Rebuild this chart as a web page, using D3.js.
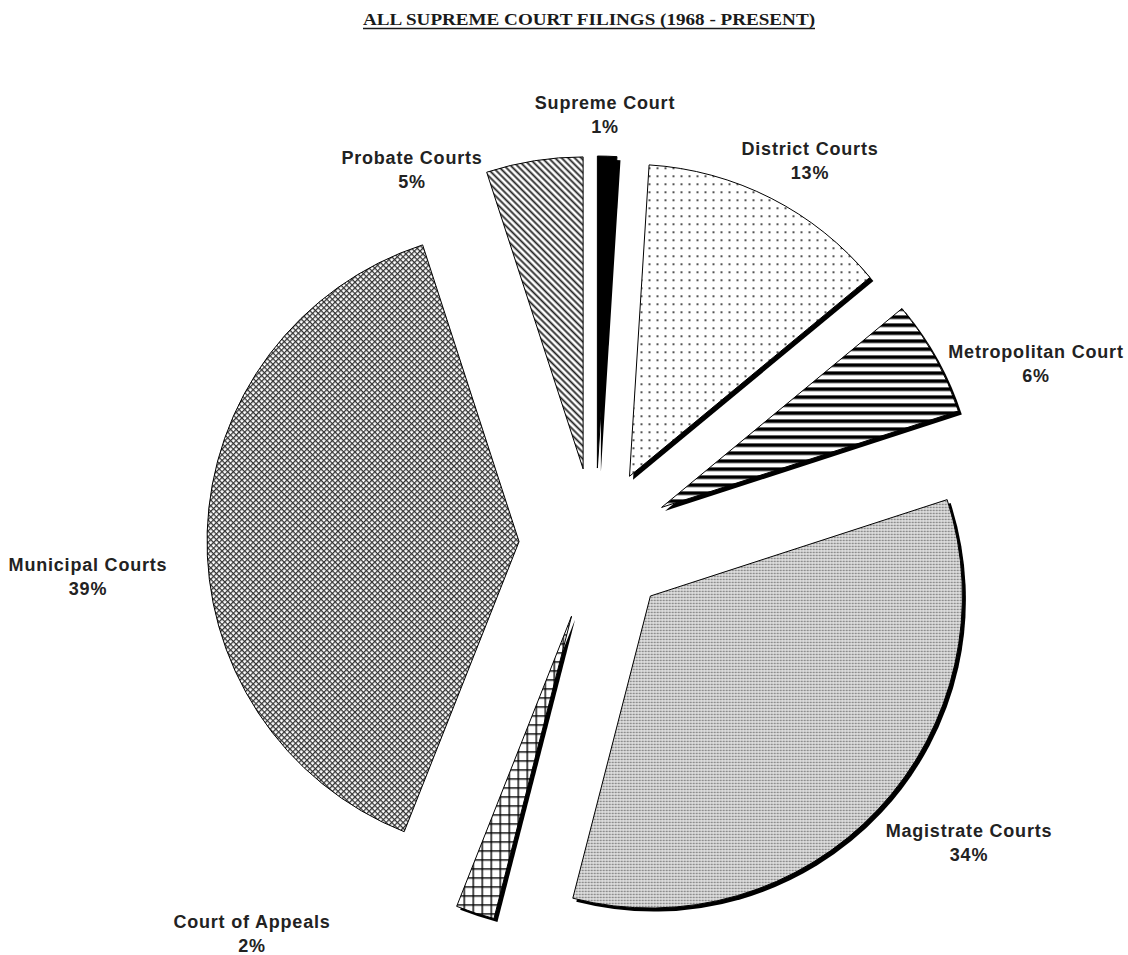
<!DOCTYPE html>
<html>
<head>
<meta charset="utf-8">
<script src="https://cdn.jsdelivr.net/npm/d3@7"></script>
<style>
  body { margin: 0; background: #fff; }
  svg { display: block; }
</style>
</head>
<body>
<svg id="chart" width="1128" height="955"></svg>
<script>
// Filing shares by court, clockwise from twelve o'clock
const courts = ["Supreme Court", "District Courts", "Metropolitan Court", "Magistrate Courts",
                "Court of Appeals", "Municipal Courts", "Probate Courts"];
const shares = [1, 13, 6, 34, 2, 39, 5];
const shareLabels = ["1%", "13%", "6%", "34%", "2%", "39%", "5%"];
const chartTitle = "ALL SUPREME COURT FILINGS (1968 - PRESENT)";

// Layout
const W = 1128, H = 955;
const center = { x: 595, y: 544 };
const radius = 312;
const explode = 76;
const shadowOffset = { x: 3.5, y: 3.5 };

// Fill pattern and shadow for each court
const fills = {
  "Supreme Court": "#000",
  "District Courts": "url(#pDots)",
  "Metropolitan Court": "url(#pStripes)",
  "Magistrate Courts": "url(#pFine)",
  "Court of Appeals": "url(#pGrid)",
  "Municipal Courts": "url(#pCross)",
  "Probate Courts": "url(#pDiag)"
};
const raised = new Set(["Supreme Court", "District Courts", "Metropolitan Court",
                        "Magistrate Courts", "Court of Appeals"]);

// Label anchor: centre x and first-line baseline
const labelSpots = {
  "Supreme Court": [605, 109],
  "District Courts": [810, 155],
  "Metropolitan Court": [1036, 358],
  "Magistrate Courts": [969, 837],
  "Court of Appeals": [252, 928],
  "Municipal Courts": [88, 571],
  "Probate Courts": [412, 164]
};

const svg = d3.select("#chart");
const defs = svg.append("defs");

function pattern(id, w, h, rotate) {
  const p = defs.append("pattern")
    .attr("id", id)
    .attr("patternUnits", "userSpaceOnUse")
    .attr("width", w).attr("height", h);
  if (rotate) p.attr("patternTransform", `rotate(${rotate})`);
  p.append("rect").attr("width", w).attr("height", h).attr("fill", "#fff");
  return p;
}

// sparse dots
pattern("pDots", 8, 8).append("circle")
  .attr("cx", 4).attr("cy", 4).attr("r", 1).attr("fill", "#1a1a1a");

// horizontal bands
pattern("pStripes", 8, 8).append("rect")
  .attr("x", 0).attr("y", 0).attr("width", 8).attr("height", 3.6).attr("fill", "#000");

// fine dot screen
const pf = pattern("pFine", 3, 3);
pf.select("rect").attr("fill", "#ececec");
pf.append("rect").attr("x", 0.6).attr("y", 0.6).attr("width", 1.7).attr("height", 1.7).attr("fill", "#6e6e6e");

// square grid
const pg = pattern("pGrid", 9, 9);
pg.append("line").attr("x1", 0).attr("y1", 0.7).attr("x2", 9).attr("y2", 0.7)
  .attr("stroke", "#000").attr("stroke-width", 1.4);
pg.append("line").attr("x1", 0.7).attr("y1", 0).attr("x2", 0.7).attr("y2", 9)
  .attr("stroke", "#000").attr("stroke-width", 1.4);

// fine diagonal crosshatch
const pc = pattern("pCross", 4, 4, 45);
pc.append("line").attr("x1", 0).attr("y1", 0.6).attr("x2", 4).attr("y2", 0.6)
  .attr("stroke", "#333").attr("stroke-width", 1.3);
pc.append("line").attr("x1", 0.6).attr("y1", 0).attr("x2", 0.6).attr("y2", 4)
  .attr("stroke", "#333").attr("stroke-width", 1.3);

// diagonal hatch
pattern("pDiag", 4.6, 4.6, 45).append("line")
  .attr("x1", 0).attr("y1", 2.3).attr("x2", 4.6).attr("y2", 2.3)
  .attr("stroke", "#222").attr("stroke-width", 1.8);

// Title
const titleG = svg.append("g");
titleG.append("text")
  .attr("x", 589).attr("y", 25)
  .attr("text-anchor", "middle")
  .attr("font-family", "'Liberation Serif', 'DejaVu Serif', serif")
  .attr("font-weight", "bold")
  .attr("font-size", 17.5)
  .attr("fill", "#1a1a1a")
  .attr("textLength", 452)
  .attr("lengthAdjust", "spacingAndGlyphs")
  .text(chartTitle);
titleG.append("line")
  .attr("x1", 363).attr("x2", 815).attr("y1", 28.5).attr("y2", 28.5)
  .attr("stroke", "#1a1a1a").attr("stroke-width", 1.5);

// Pie
const data = courts.map((c, i) => ({ court: c, share: shares[i], label: shareLabels[i] }));
const pie = d3.pie().sort(null).value(d => d.share);
const arc = d3.arc().innerRadius(0).outerRadius(radius);
const arcs = pie(data);

function offsetOf(a) {
  const mid = (a.startAngle + a.endAngle) / 2;
  return [center.x + explode * Math.sin(mid), center.y - explode * Math.cos(mid)];
}

const pieG = svg.append("g");

// shadows behind raised slices
pieG.selectAll("path.shadow")
  .data(arcs.filter(a => raised.has(a.data.court)))
  .join("path")
  .attr("class", "shadow")
  .attr("transform", a => {
    const [x, y] = offsetOf(a);
    return `translate(${x + shadowOffset.x},${y + shadowOffset.y})`;
  })
  .attr("d", arc)
  .attr("fill", "#000");

// slices
pieG.selectAll("path.slice")
  .data(arcs)
  .join("path")
  .attr("class", "slice")
  .attr("transform", a => {
    const [x, y] = offsetOf(a);
    return `translate(${x},${y})`;
  })
  .attr("d", arc)
  .attr("fill", a => fills[a.data.court])
  .attr("stroke", "#000")
  .attr("stroke-width", 1)
  .attr("stroke-linejoin", "miter");

// Labels
const labelG = svg.append("g")
  .attr("font-family", "'Liberation Sans', Arial, sans-serif")
  .attr("font-weight", "bold")
  .attr("font-size", 18)
  .attr("letter-spacing", "0.8px")
  .attr("fill", "#222")
  .attr("text-anchor", "middle");

const lbl = labelG.selectAll("text")
  .data(data)
  .join("text")
  .attr("x", d => labelSpots[d.court][0])
  .attr("y", d => labelSpots[d.court][1]);
lbl.append("tspan")
  .attr("x", d => labelSpots[d.court][0])
  .text(d => d.court);
lbl.append("tspan")
  .attr("x", d => labelSpots[d.court][0])
  .attr("dy", 23.5)
  .text(d => d.label);
</script>
</body>
</html>
